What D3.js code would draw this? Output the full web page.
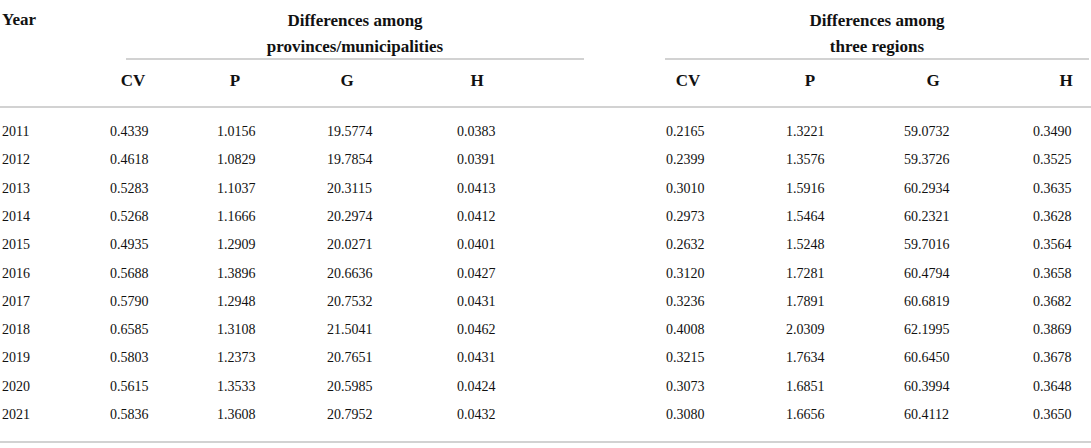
<!DOCTYPE html>
<html lang="en">

<head>
    <meta charset="UTF-8">
    <title>Regional differences table</title>
    <script src="https://d3js.org/d3.v7.min.js"></script>
    <style>
        body {
            margin: 0;
            background: #fff;
        }

        text {
            font-family: "Liberation Serif", "DejaVu Serif", serif;
            fill: #111;
        }

        .head {
            font-weight: bold;
            font-size: 17px;
        }

        .cell {
            font-size: 14px;
        }

        .rule {
            stroke: #d2d2d2;
            stroke-width: 2;
        }
    </style>
</head>

<body>
    <svg id="myChart"></svg>
</body>
<script>
    const years = [2011, 2012, 2013, 2014, 2015, 2016, 2017, 2018, 2019, 2020, 2021];
    const measures = ["CV", "P", "G", "H"];
    const groupTitles = [
        ["Differences among", "provinces/municipalities"],
        ["Differences among", "three regions"]
    ];

    // provinces/municipalities
    const provCV = ["0.4339", "0.4618", "0.5283", "0.5268", "0.4935", "0.5688", "0.5790", "0.6585", "0.5803", "0.5615", "0.5836"];
    const provP = ["1.0156", "1.0829", "1.1037", "1.1666", "1.2909", "1.3896", "1.2948", "1.3108", "1.2373", "1.3533", "1.3608"];
    const provG = ["19.5774", "19.7854", "20.3115", "20.2974", "20.0271", "20.6636", "20.7532", "21.5041", "20.7651", "20.5985", "20.7952"];
    const provH = ["0.0383", "0.0391", "0.0413", "0.0412", "0.0401", "0.0427", "0.0431", "0.0462", "0.0431", "0.0424", "0.0432"];

    // three regions
    const regCV = ["0.2165", "0.2399", "0.3010", "0.2973", "0.2632", "0.3120", "0.3236", "0.4008", "0.3215", "0.3073", "0.3080"];
    const regP = ["1.3221", "1.3576", "1.5916", "1.5464", "1.5248", "1.7281", "1.7891", "2.0309", "1.7634", "1.6851", "1.6656"];
    const regG = ["59.0732", "59.3726", "60.2934", "60.2321", "59.7016", "60.4794", "60.6819", "62.1995", "60.6450", "60.3994", "60.4112"];
    const regH = ["0.3490", "0.3525", "0.3635", "0.3628", "0.3564", "0.3658", "0.3682", "0.3869", "0.3678", "0.3648", "0.3650"];

    const groups = [
        [provCV, provP, provG, provH],
        [regCV, regP, regG, regH]
    ];

    const width = 1091, height = 448;

    // layout: left edge of values, centre of header for every column
    const valueX = [[110, 217, 327, 457], [666, 786, 904, 1033]];
    const headX = [[133, 235, 347, 477], [688, 810, 933, 1066]];
    const groupSpan = [[126, 584], [665, 1089]];

    const svg = d3.select("#myChart")
        .attr("width", width)
        .attr("height", height);

    const y = d3.scalePoint()
        .domain(years)
        .range([136, 419]);

    // rules
    const rules = [
        { x1: 0, x2: width, y: 107 },
        { x1: 0, x2: width, y: 442 }
    ].concat(groupSpan.map(s => ({ x1: s[0], x2: s[1], y: 59 })));

    svg.selectAll(".rule")
        .data(rules)
        .enter().append("line")
        .attr("class", "rule")
        .attr("x1", d => d.x1)
        .attr("x2", d => d.x2)
        .attr("y1", d => d.y)
        .attr("y2", d => d.y);

    // Year header
    svg.append("text")
        .attr("class", "head")
        .attr("x", 2)
        .attr("y", 25)
        .text("Year");

    groupTitles.forEach((lines, g) => {
        const cx = (groupSpan[g][0] + groupSpan[g][1]) / 2;
        svg.selectAll(".gt" + g)
            .data(lines)
            .enter().append("text")
            .attr("class", "head")
            .attr("x", cx)
            .attr("y", (d, i) => 26 + i * 26)
            .attr("text-anchor", "middle")
            .text(d => d);

        svg.selectAll(".mh" + g)
            .data(measures)
            .enter().append("text")
            .attr("class", "head")
            .attr("x", (d, i) => headX[g][i])
            .attr("y", 86)
            .attr("text-anchor", "middle")
            .text(d => d);
    });

    // year column
    svg.selectAll(".yr")
        .data(years)
        .enter().append("text")
        .attr("class", "cell")
        .attr("x", 2)
        .attr("y", d => y(d))
        .text(d => d);

    // value columns
    groups.forEach((cols, g) => {
        cols.forEach((col, c) => {
            svg.selectAll(".v" + g + c)
                .data(col)
                .enter().append("text")
                .attr("class", "cell")
                .attr("x", valueX[g][c])
                .attr("y", (d, i) => y(years[i]))
                .text(d => d);
        });
    });
</script>

</html>
